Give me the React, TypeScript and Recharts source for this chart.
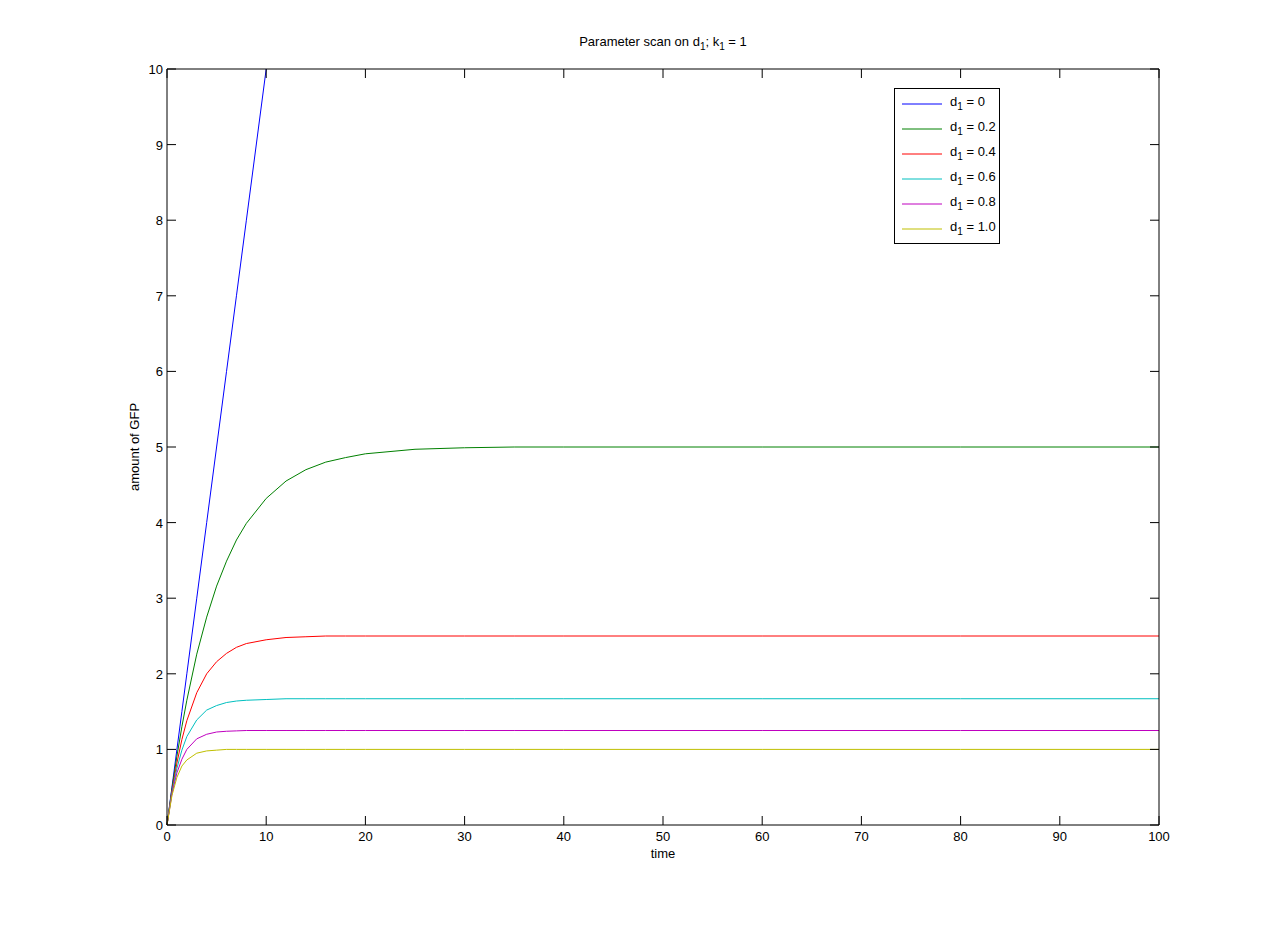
import React from 'react';
import { LineChart, Line, XAxis, YAxis, Legend, Label } from 'recharts';

// Datos (tiempo vs. cantidad de GFP)
const time = [0, 0.5, 1, 1.5, 2, 3, 4, 5, 6, 7, 8, 10, 12, 14, 16, 18, 20, 25, 30, 35, 40, 50, 60, 80, 100];
const gfpD00 = [0, 0.5, 1, 1.5, 2, 3, 4, 5, 6, 7, 8, 10, null, null, null, null, null, null, null, null, null, null, null, null, null];
const gfpD02 = [0, 0.48, 0.91, 1.3, 1.65, 2.26, 2.75, 3.16, 3.49, 3.77, 3.99, 4.32, 4.55, 4.7, 4.8, 4.86, 4.91, 4.97, 4.99, 5.0, 5.0, 5.0, 5.0, 5.0, 5.0];
const gfpD04 = [0, 0.45, 0.82, 1.13, 1.38, 1.75, 2.0, 2.16, 2.27, 2.35, 2.4, 2.45, 2.48, 2.49, 2.5, 2.5, 2.5, 2.5, 2.5, 2.5, 2.5, 2.5, 2.5, 2.5, 2.5];
const gfpD06 = [0, 0.43, 0.75, 0.99, 1.17, 1.39, 1.52, 1.58, 1.62, 1.64, 1.65, 1.66, 1.67, 1.67, 1.67, 1.67, 1.67, 1.67, 1.67, 1.67, 1.67, 1.67, 1.67, 1.67, 1.67];
const gfpD08 = [0, 0.41, 0.69, 0.87, 1.0, 1.14, 1.2, 1.23, 1.24, 1.245, 1.25, 1.25, 1.25, 1.25, 1.25, 1.25, 1.25, 1.25, 1.25, 1.25, 1.25, 1.25, 1.25, 1.25, 1.25];
const gfpD10 = [0, 0.39, 0.63, 0.78, 0.86, 0.95, 0.98, 0.99, 1.0, 1.0, 1.0, 1.0, 1.0, 1.0, 1.0, 1.0, 1.0, 1.0, 1.0, 1.0, 1.0, 1.0, 1.0, 1.0, 1.0];

const seriesKeys = ['d0', 'd02', 'd04', 'd06', 'd08', 'd10'];
const seriesLabels = ['0', '0.2', '0.4', '0.6', '0.8', '1.0'];
const seriesColors = ['#0000FF', '#008000', '#FF0000', '#00BFBF', '#BF00BF', '#BFBF00'];
const seriesValues = [gfpD00, gfpD02, gfpD04, gfpD06, gfpD08, gfpD10];

const xTicks = [0, 10, 20, 30, 40, 50, 60, 70, 80, 90, 100];
const yTicks = [0, 1, 2, 3, 4, 5, 6, 7, 8, 9, 10];

const data = time.map((t, i) => {
  const row: any = { t };
  seriesKeys.forEach((k, s) => { row[k] = seriesValues[s][i]; });
  return row;
});

const FONT = '"Liberation Sans", Arial, sans-serif';
const TICK_LEN = 9;

// Ticks hacia adentro, estilo MATLAB
const BottomTick = ({ x, y, payload }: any) => (
  <g>
    <line x1={x} x2={x} y1={y} y2={y - TICK_LEN} stroke="#000" />
    <text x={x} y={y + 16} textAnchor="middle" fontSize={13} fontFamily={FONT} fill="#000">{payload.value}</text>
  </g>
);
const TopTick = ({ x, y }: any) => <line x1={x} x2={x} y1={y} y2={y + TICK_LEN} stroke="#000" />;
const LeftTick = ({ x, y, payload }: any) => (
  <g>
    <line x1={x} x2={x + TICK_LEN} y1={y} y2={y} stroke="#000" />
    <text x={x - 4} y={y + 5} textAnchor="end" fontSize={13} fontFamily={FONT} fill="#000">{payload.value}</text>
  </g>
);
const RightTick = ({ x, y }: any) => <line x1={x} x2={x - TICK_LEN} y1={y} y2={y} stroke="#000" />;

const renderTitle = (props: any) => {
  const { x, y, width, height } = props.viewBox;
  return (
    <text x={x + width / 2} y={y + height - 23} textAnchor="middle" fontSize={13} fontFamily={FONT} fill="#000">
      Parameter scan on d<tspan dy={4} fontSize={10}>1</tspan>
      <tspan dy={-4}>; k</tspan><tspan dy={4} fontSize={10}>1</tspan>
      <tspan dy={-4}> = 1</tspan>
    </text>
  );
};

const CustomLegend = ({ payload }: any) => (
  <div style={{ border: '1px solid #000', background: '#fff', width: 104, height: 152, paddingTop: 2, fontFamily: FONT, fontSize: 13 }}>
    {(payload || []).map((entry: any, i: number) => (
      <div key={i} style={{ height: 25, display: 'flex', alignItems: 'center' }}>
        <svg width={48} height={10} style={{ marginLeft: 7 }}>
          <line x1={0} x2={40} y1={5} y2={5} stroke={entry.color} />
        </svg>
        <span style={{ lineHeight: '13px' }}>
          d<sub style={{ fontSize: 10, verticalAlign: -4 }}>1</sub> = {entry.value}
        </span>
      </div>
    ))}
  </div>
);

export default function App() {
  const last = seriesKeys.length - 1;
  return (
    <div style={{ position: 'absolute', left: 0, top: 0, width: 1281, height: 927, background: '#fff', fontFamily: FONT }}>
      <LineChart width={1281} height={927} data={data} margin={{ top: 68, right: 121, left: 127, bottom: 62 }}>
        <XAxis dataKey="t" type="number" domain={[0, 100]} ticks={xTicks} height={40}
          tickSize={0} tickMargin={0} tick={<BottomTick />} axisLine={{ stroke: '#000' }} tickLine={false}>
          <Label value="time" position="insideBottom" offset={7} style={{ fontSize: 13, fontFamily: FONT, fill: '#000' }} />
        </XAxis>
        <XAxis xAxisId="top" dataKey="t" orientation="top" type="number" domain={[0, 100]} ticks={xTicks} height={1}
          tickSize={0} tickMargin={0} tick={<TopTick />} axisLine={{ stroke: '#000' }} tickLine={false}>
          <Label position="top" content={renderTitle} />
        </XAxis>
        <YAxis type="number" domain={[0, 10]} ticks={yTicks} width={40}
          tickSize={0} tickMargin={0} tick={<LeftTick />} axisLine={{ stroke: '#000' }} tickLine={false}>
          <Label value="amount of GFP" angle={-90} position="insideLeft" offset={7}
            style={{ fontSize: 13, fontFamily: FONT, fill: '#000', textAnchor: 'middle' }} />
        </YAxis>
        <YAxis yAxisId="right" orientation="right" type="number" domain={[0, 10]} ticks={yTicks} width={1}
          tickSize={0} tickMargin={0} tick={<RightTick />} axisLine={{ stroke: '#000' }} tickLine={false} />
        <Legend layout="vertical" align="center" verticalAlign="middle" content={<CustomLegend />}
          wrapperStyle={{ left: 894, top: 88, width: 106, height: 154 }} />
        {seriesKeys.map((k, s) => (
          <Line key={k} dataKey={k} name={seriesLabels[s]} stroke={seriesColors[s]} strokeWidth={1}
            xAxisId={s === last ? 'top' : 0} yAxisId={s === last ? 'right' : 0}
            dot={false} activeDot={false} type="linear" isAnimationActive={false} />
        ))}
      </LineChart>
    </div>
  );
}
